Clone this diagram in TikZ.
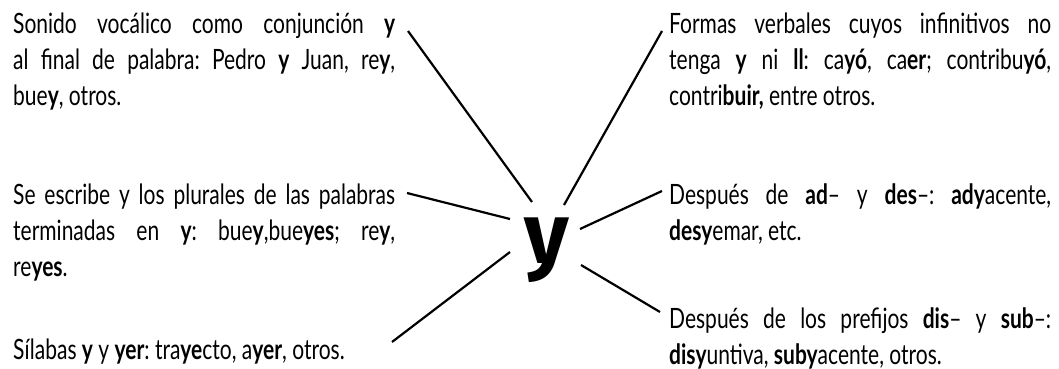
\documentclass[tikz,border=0pt]{standalone}
\usepackage{fontspec}
\setmainfont{Lato}[FakeStretch=0.75]
\newfontfamily\firafont{Fira Sans}
\usepackage{tikz}
\frenchspacing

\tikzstyle{texto} = [anchor=base west, inner sep=0pt, text width=382pt, align=justify,
	font=\fontsize{28}{36}\selectfont,
	execute at begin node={\hyphenpenalty=10000 \tolerance=9999 }]
\tikzstyle{rama} = [draw, line width=2.2pt]

\begin{document}
\begin{tikzpicture}[x=1pt,y=-1pt]

		\useasboundingbox (0,0) rectangle (1059,369);

		% textos de la izquierda
		\node[texto] (l1) at (13,34) {Sonido vocálico como conjunción \textbf{y}\linebreak al final de palabra: Pedro \textbf{y} Juan, re\textbf{y},\linebreak bue\textbf{y}, otros.};
		\node[texto] (l2) at (13,204) {Se escribe y los plurales de las palabras\linebreak terminadas en \textbf{y}: bue\textbf{y},bue\textbf{yes}; re\textbf{y},\linebreak re\textbf{yes}.};
		\node[texto] (l3) at (13,359) {Sílabas \textbf{y} y \textbf{yer}: tra\textbf{ye}cto, a\textbf{yer}, otros.};

		% textos de la derecha
		\node[texto] (r1) at (669,34) {Formas verbales cuyos infinitivos no\linebreak tenga \textbf{y} ni \textbf{ll}: ca\textbf{yó}, ca\textbf{er}; contribu\textbf{yó},\linebreak contri\textbf{buir,} entre otros.};
		\node[texto] (r2) at (669,204) {Después de \textbf{ad}-- y \textbf{des}--: \textbf{ady}acente,\linebreak \textbf{desy}emar, etc.};
		\node[texto] (r3) at (669,328) {Después de los prefijos \textbf{dis}-- y \textbf{sub}--:\linebreak \textbf{disy}untiva, \textbf{suby}acente, otros.};

		% la y del centro
		\node[anchor=base, inner sep=0pt, font=\firafont\bfseries\fontsize{86}{86}\selectfont] (ye) at (547,263) {y};

		\foreach \n/\x/\y in {a1/408/31, a2/662/31, a3/407/193, a4/392/342, a5/662/191, a6/660/312}
			\coordinate (\n) at (\x,\y);
		\foreach \n/\x/\y in {b1/532/202, b2/564/205, b3/510/219, b4/510/252, b5/580/229, b6/581/265}
			\coordinate (\n) at (\x,\y);

		\foreach \i in {1,...,6}
			\draw[rama] (a\i) -- (b\i);

\end{tikzpicture}
\end{document}
